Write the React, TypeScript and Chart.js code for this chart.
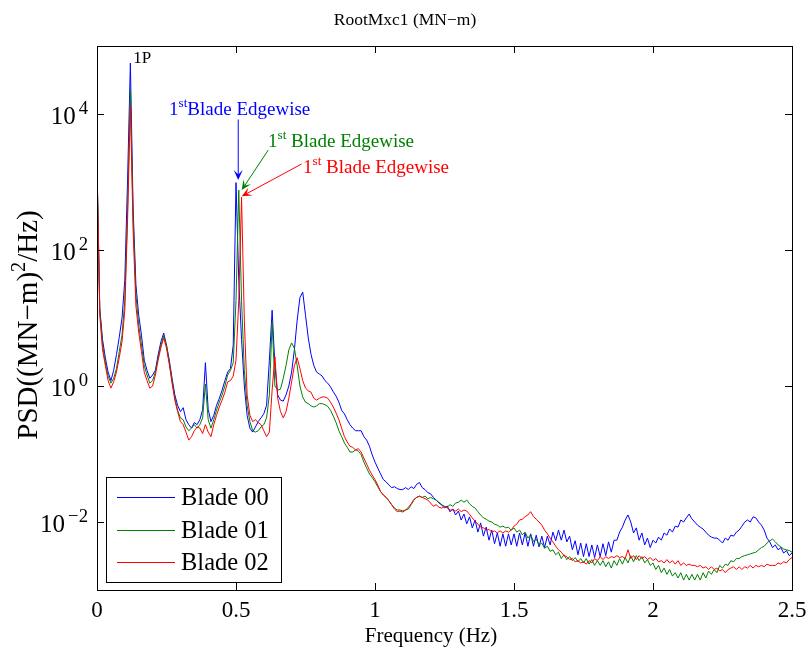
import React, { useEffect, useRef } from 'react';
import { Chart, registerables } from 'chart.js';

Chart.register(...registerables);

// ---------------- data ----------------
const FREQ = [
  0, 0.01, 0.02, 0.03, 0.04, 0.05, 0.06, 0.07, 0.08, 0.09,
  0.1, 0.11, 0.12, 0.13, 0.14, 0.15, 0.16, 0.17, 0.18, 0.19,
  0.2, 0.21, 0.22, 0.23, 0.24, 0.25, 0.26, 0.27, 0.28, 0.29,
  0.3, 0.31, 0.32, 0.33, 0.34, 0.35, 0.36, 0.37, 0.38, 0.39,
  0.4, 0.41, 0.42, 0.43, 0.44, 0.45, 0.46, 0.47, 0.48, 0.49,
  0.5, 0.51, 0.52, 0.53, 0.54, 0.55, 0.56, 0.57, 0.58, 0.59,
  0.6, 0.61, 0.62, 0.63, 0.64, 0.65, 0.66, 0.67, 0.68, 0.69,
  0.7, 0.71, 0.72, 0.73, 0.74, 0.75, 0.76, 0.77, 0.78, 0.79,
  0.8, 0.81, 0.82, 0.83, 0.84, 0.85, 0.86, 0.87, 0.88, 0.89,
  0.9, 0.91, 0.92, 0.93, 0.94, 0.95, 0.96, 0.97, 0.98, 0.99,
  1.0, 1.01, 1.02, 1.03, 1.04, 1.05, 1.06, 1.07, 1.08, 1.09,
  1.1, 1.11, 1.12, 1.13, 1.14, 1.15, 1.16, 1.17, 1.18, 1.19,
  1.2, 1.21, 1.22, 1.23, 1.24, 1.25, 1.26, 1.27, 1.28, 1.29,
  1.3, 1.31, 1.32, 1.33, 1.34, 1.35, 1.36, 1.37, 1.38, 1.39,
  1.4, 1.41, 1.42, 1.43, 1.44, 1.45, 1.46, 1.47, 1.48, 1.49,
  1.5, 1.51, 1.52, 1.53, 1.54, 1.55, 1.56, 1.57, 1.58, 1.59,
  1.6, 1.61, 1.62, 1.63, 1.64, 1.65, 1.66, 1.67, 1.68, 1.69,
  1.7, 1.71, 1.72, 1.73, 1.74, 1.75, 1.76, 1.77, 1.78, 1.79,
  1.8, 1.81, 1.82, 1.83, 1.84, 1.85, 1.86, 1.87, 1.88, 1.89,
  1.9, 1.91, 1.92, 1.93, 1.94, 1.95, 1.96, 1.97, 1.98, 1.99,
  2.0, 2.01, 2.02, 2.03, 2.04, 2.05, 2.06, 2.07, 2.08, 2.09,
  2.1, 2.11, 2.12, 2.13, 2.14, 2.15, 2.16, 2.17, 2.18, 2.19,
  2.2, 2.21, 2.22, 2.23, 2.24, 2.25, 2.26, 2.27, 2.28, 2.29,
  2.3, 2.31, 2.32, 2.33, 2.34, 2.35, 2.36, 2.37, 2.38, 2.39,
  2.4, 2.41, 2.42, 2.43, 2.44, 2.45, 2.46, 2.47, 2.48, 2.49, 2.5,
];

const BLADE_00 = [
  1800, 14, 4.8, 2.6, 1.6, 1.2, 1.7, 2.9, 5.2, 10,
  36, 1100, 56000, 400, 31, 11, 5.6, 2.4, 1.7, 1.3,
  1.45, 1.7, 2.9, 4.5, 6.0, 4.0, 2.4, 1.3, 0.74, 0.52,
  0.42, 0.48, 0.32, 0.27, 0.24, 0.29, 0.27, 0.32, 0.45, 2.2,
  0.45, 0.3, 0.37, 0.52, 0.66, 0.87, 1.2, 1.6, 1.8, 4.0,
  980, 36, 4.8, 1.0, 0.37, 0.24, 0.21, 0.25, 0.3, 0.34,
  0.39, 0.52, 2.4, 13, 2.0, 0.74, 0.62, 0.6, 0.74, 1.0,
  1.6, 3.4, 9.3, 20, 24, 11, 5.1, 2.9, 2.0, 1.6,
  1.5, 1.4, 1.2, 1.1, 0.97, 0.82, 0.71, 0.58, 0.44, 0.39,
  0.32, 0.27, 0.24, 0.22, 0.22, 0.22, 0.18, 0.16, 0.13, 0.097,
  0.076, 0.062, 0.051, 0.042, 0.039, 0.035, 0.032, 0.033, 0.031, 0.030,
  0.030, 0.032, 0.030, 0.033, 0.031, 0.036, 0.038, 0.032, 0.030, 0.027,
  0.026, 0.023, 0.021, 0.019, 0.0178, 0.0161, 0.0172, 0.0141, 0.0156, 0.0127,
  0.0145, 0.0107, 0.0131, 0.0094, 0.0119, 0.0082, 0.0107, 0.0071, 0.0097, 0.0062,
  0.0084, 0.0054, 0.0076, 0.0048, 0.0069, 0.0044, 0.0067, 0.0044, 0.0067, 0.0046,
  0.0067, 0.0044, 0.0069, 0.0046, 0.0069, 0.0044, 0.0067, 0.0044, 0.0064, 0.0043,
  0.0062, 0.0042, 0.0062, 0.0046, 0.0071, 0.0053, 0.0076, 0.0054, 0.0076, 0.0051,
  0.0062, 0.0039, 0.0053, 0.0033, 0.0049, 0.0031, 0.0048, 0.0031, 0.0046, 0.0030,
  0.0046, 0.0031, 0.0048, 0.0032, 0.0051, 0.0036, 0.0054, 0.0054, 0.0071, 0.0084,
  0.0107, 0.0127, 0.0100, 0.0069, 0.0082, 0.0054, 0.0069, 0.0046, 0.0058, 0.0042,
  0.0054, 0.0049, 0.0060, 0.0054, 0.0069, 0.0064, 0.0079, 0.0071, 0.0087, 0.0084,
  0.0107, 0.0100, 0.0115, 0.0131, 0.0111, 0.0100, 0.0090, 0.0084, 0.0079, 0.0071,
  0.0064, 0.0060, 0.0058, 0.0058, 0.0054, 0.0049, 0.0058, 0.0054, 0.0064, 0.0062,
  0.0071, 0.0076, 0.0087, 0.0100, 0.0107, 0.0100, 0.0119, 0.0115, 0.0100, 0.0090,
  0.0076, 0.0058, 0.0051, 0.0042, 0.0046, 0.0039, 0.0042, 0.0035, 0.0038, 0.0032, 0.0035,
];

const BLADE_01 = [
  1600, 13, 4.0, 2.2, 1.4, 1.1, 1.3, 1.8, 3.2, 5.6,
  18, 390, 23000, 280, 22, 7.9, 4.0, 2.0, 1.45, 1.1,
  1.2, 1.6, 2.6, 4.0, 5.5, 3.9, 2.2, 1.2, 0.66, 0.44,
  0.34, 0.32, 0.25, 0.22, 0.24, 0.27, 0.24, 0.27, 0.34, 1.07,
  0.32, 0.24, 0.32, 0.44, 0.58, 0.74, 1.0, 1.45, 1.7, 2.2,
  18, 760, 18, 1.7, 0.52, 0.3, 0.22, 0.21, 0.22, 0.25,
  0.27, 0.34, 0.74, 8.7, 1.0, 0.87, 0.9, 1.3, 2.0, 3.4,
  4.3, 3.6, 2.0, 1.0, 0.69, 0.58, 0.55, 0.51, 0.49, 0.51,
  0.55, 0.55, 0.53, 0.5, 0.44, 0.36, 0.29, 0.22, 0.18, 0.145,
  0.126, 0.107, 0.107, 0.115, 0.11, 0.098, 0.076, 0.062, 0.051, 0.045,
  0.039, 0.033, 0.028, 0.025, 0.023, 0.0205, 0.018, 0.016, 0.015, 0.015,
  0.0145, 0.015, 0.0155, 0.018, 0.021, 0.023, 0.024, 0.023, 0.024, 0.022,
  0.023, 0.022, 0.021, 0.0195, 0.018, 0.017, 0.0165, 0.018, 0.017, 0.019,
  0.0195, 0.021, 0.0195, 0.021, 0.0185, 0.017, 0.016, 0.0142, 0.0127, 0.0115,
  0.011, 0.0103, 0.010, 0.0093, 0.009, 0.0084, 0.0087, 0.0082, 0.0084, 0.0076,
  0.0082, 0.0071, 0.0076, 0.0065, 0.0071, 0.0058, 0.0065, 0.0052, 0.0056, 0.0046,
  0.0049, 0.0041, 0.0044, 0.0037, 0.0039, 0.0033, 0.0036, 0.0029, 0.0033, 0.0028,
  0.0031, 0.0027, 0.0030, 0.0026, 0.0029, 0.0025, 0.0029, 0.0024, 0.0028, 0.0023,
  0.0027, 0.0023, 0.0027, 0.0022, 0.0026, 0.0021, 0.0027, 0.0023, 0.0029, 0.0024,
  0.0030, 0.0025, 0.0032, 0.0026, 0.0032, 0.0027, 0.0031, 0.0025, 0.0028, 0.0023,
  0.0025, 0.0020, 0.0023, 0.0018, 0.0021, 0.0017, 0.0020, 0.0016, 0.0018, 0.0015,
  0.0018, 0.0014, 0.0017, 0.0014, 0.0017, 0.0014, 0.0017, 0.0014, 0.0018, 0.0015,
  0.0019, 0.0017, 0.0020, 0.0018, 0.0023, 0.0021, 0.0024, 0.0023, 0.0027, 0.0026,
  0.0029, 0.0029, 0.0031, 0.0032, 0.0033, 0.0034, 0.0035, 0.0036, 0.0039, 0.0042,
  0.0044, 0.0049, 0.0053, 0.0056, 0.0051, 0.0046, 0.0043, 0.0040, 0.0039, 0.0038, 0.0036,
];

const BLADE_02 = [
  1800, 11, 3.4, 2.0, 1.2, 0.93, 1.15, 1.6, 2.6, 4.5,
  13, 280, 13500, 190, 15, 6.2, 3.2, 1.6, 1.2, 0.93,
  1.0, 1.45, 2.4, 3.7, 5.1, 3.6, 2.1, 1.1, 0.62, 0.42,
  0.3, 0.27, 0.21, 0.16, 0.18, 0.22, 0.25, 0.24, 0.2, 0.27,
  0.21, 0.18, 0.27, 0.37, 0.49, 0.62, 0.81, 1.15, 1.2, 1.4,
  2.4, 18, 600, 9.3, 0.74, 0.37, 0.3, 0.32, 0.29, 0.27,
  0.22, 0.18, 0.21, 0.87, 2.7, 0.66, 0.42, 0.34, 0.42, 0.66,
  1.15, 2.0, 2.6, 1.8, 1.2, 0.93, 0.85, 0.81, 0.66, 0.62,
  0.66, 0.69, 0.69, 0.66, 0.58, 0.49, 0.4, 0.32, 0.24, 0.18,
  0.15, 0.13, 0.125, 0.115, 0.12, 0.107, 0.087, 0.071, 0.058, 0.049,
  0.042, 0.035, 0.028, 0.025, 0.023, 0.0205, 0.018, 0.0155, 0.0142, 0.0145,
  0.014, 0.015, 0.0165, 0.0185, 0.0215, 0.023, 0.024, 0.023, 0.022, 0.021,
  0.019, 0.017, 0.018, 0.0165, 0.016, 0.017, 0.016, 0.015, 0.015, 0.0145,
  0.0155, 0.0142, 0.015, 0.0145, 0.013, 0.0115, 0.0103, 0.0093, 0.0084, 0.0082,
  0.0076, 0.0078, 0.0071, 0.0074, 0.0069, 0.0074, 0.0069, 0.0074, 0.0071, 0.0076,
  0.0087, 0.0093, 0.0107, 0.011, 0.012, 0.0127, 0.0142, 0.012, 0.011, 0.010,
  0.009, 0.0076, 0.0067, 0.0058, 0.0051, 0.0044, 0.0039, 0.0036, 0.0032, 0.0031,
  0.0028, 0.0029, 0.0026, 0.0027, 0.0025, 0.0026, 0.0024, 0.0027, 0.0025, 0.0029,
  0.0027, 0.0031, 0.0028, 0.0031, 0.0029, 0.0031, 0.0030, 0.0032, 0.0030, 0.0031,
  0.0029, 0.0039, 0.0029, 0.0032, 0.0028, 0.0032, 0.0029, 0.0031, 0.0028, 0.0030,
  0.0027, 0.0029, 0.0026, 0.0027, 0.0025, 0.0028, 0.0025, 0.0027, 0.0024, 0.0027,
  0.0023, 0.0025, 0.0023, 0.0024, 0.0023, 0.0023, 0.0022, 0.0023, 0.0021, 0.0022,
  0.0020, 0.0022, 0.0020, 0.0021, 0.0019, 0.0020, 0.0018, 0.0020, 0.0021, 0.0022,
  0.0020, 0.0022, 0.0020, 0.0022, 0.0021, 0.0023, 0.0021, 0.0023, 0.0022, 0.0023,
  0.0022, 0.0024, 0.0023, 0.0023, 0.0023, 0.0025, 0.0024, 0.0026, 0.0025, 0.0028, 0.0030,
];

const SERIES_NAMES = ['Blade 00', 'Blade 01', 'Blade 02'];
const SERIES_VALUES = [BLADE_00, BLADE_01, BLADE_02];
const SERIES_COLORS = ['#0000ff', '#008000', '#ff0000'];

const X_TICKS = [0, 0.5, 1, 1.5, 2, 2.5];
const X_TICK_LABELS = ['0', '0.5', '1', '1.5', '2', '2.5'];
const Y_TICKS = [1e-2, 1, 1e2, 1e4];
const Y_TICK_EXPONENTS = ['\u22122', '0', '2', '4'];

const TITLE = 'RootMxc1 (MN\u2212m)';
const X_LABEL = 'Frequency (Hz)';
const Y_LABEL_PARTS = [
  { t: 'PSD((MN\u2212m)' },
  { t: '2', sup: true },
  { t: '/Hz)' },
];

// annotation anchors in data coordinates (frequency, PSD)
const PEAK_LABEL = { text: '1P', f: 0.13, v: 56000 };
const MODE_LABELS = [
  { sup: 'st', rest: 'Blade Edgewise', gap: '', f: 0.259, v: 9700, tail: [0.508, 8300], tip: [0.508, 1070] },
  { sup: 'st', rest: 'Blade Edgewise', gap: ' ', f: 0.615, v: 3270, tail: [0.616, 2950], tip: [0.5205, 760] },
  { sup: 'st', rest: 'Blade Edgewise', gap: ' ', f: 0.741, v: 1350, tail: [0.736, 1840], tip: [0.5205, 615] },
];

// ---------------- drawing helpers ----------------
const SERIF = '"Liberation Serif", "Times New Roman", Times, serif';

type Run = { t: string; sup?: boolean; gapBefore?: number };

function runsWidth(ctx: CanvasRenderingContext2D, runs: Run[], size: number, supScale = 0.7) {
  let w = 0;
  for (const r of runs) {
    ctx.font = `${r.sup ? size * supScale : size}px ${SERIF}`;
    w += (r.gapBefore || 0) + ctx.measureText(r.t).width;
  }
  return w;
}

function drawRuns(ctx: CanvasRenderingContext2D, runs: Run[], x: number, baseline: number, size: number, supScale = 0.7) {
  let cx = x;
  ctx.textAlign = 'left';
  ctx.textBaseline = 'alphabetic';
  for (const r of runs) {
    cx += r.gapBefore || 0;
    ctx.font = `${r.sup ? size * supScale : size}px ${SERIF}`;
    ctx.fillText(r.t, cx, r.sup ? baseline - size * 0.42 : baseline);
    cx += ctx.measureText(r.t).width;
  }
}

function drawArrow(ctx: CanvasRenderingContext2D, x1: number, y1: number, x2: number, y2: number, color: string) {
  const dx = x2 - x1;
  const dy = y2 - y1;
  const len = Math.hypot(dx, dy);
  const ux = dx / len;
  const uy = dy / len;
  const nx = -uy;
  const ny = ux;
  const L = 10;
  const W = 4.5;
  ctx.save();
  ctx.strokeStyle = color;
  ctx.fillStyle = color;
  ctx.lineWidth = 1;
  ctx.beginPath();
  ctx.moveTo(x1, y1);
  ctx.lineTo(x2 - ux * L * 0.5, y2 - uy * L * 0.5);
  ctx.stroke();
  ctx.beginPath();
  ctx.moveTo(x2, y2);
  ctx.lineTo(x2 - ux * L + nx * W, y2 - uy * L + ny * W);
  ctx.lineTo(x2 - ux * L * 0.55, y2 - uy * L * 0.55);
  ctx.lineTo(x2 - ux * L - nx * W, y2 - uy * L - ny * W);
  ctx.closePath();
  ctx.fill();
  ctx.restore();
}

const overlayPlugin = {
  id: 'matlabOverlay',
  afterDraw(chart: any) {
    const ctx: CanvasRenderingContext2D = chart.ctx;
    const ca = chart.chartArea;
    const xs = chart.scales.x;
    const ys = chart.scales.y;
    ctx.save();

    // axes box and inward ticks
    ctx.strokeStyle = '#000';
    ctx.lineWidth = 1;
    ctx.strokeRect(Math.round(ca.left) + 0.5, Math.round(ca.top) + 0.5, Math.round(ca.right - ca.left), Math.round(ca.bottom - ca.top));
    const tl = 7;
    ctx.beginPath();
    for (const t of X_TICKS) {
      const px = Math.round(xs.getPixelForValue(t)) + 0.5;
      ctx.moveTo(px, ca.bottom);
      ctx.lineTo(px, ca.bottom - tl);
      ctx.moveTo(px, ca.top);
      ctx.lineTo(px, ca.top + tl);
    }
    for (const t of Y_TICKS) {
      const py = Math.round(ys.getPixelForValue(t)) + 0.5;
      ctx.moveTo(ca.left, py);
      ctx.lineTo(ca.left + tl, py);
      ctx.moveTo(ca.right, py);
      ctx.lineTo(ca.right - tl, py);
    }
    ctx.stroke();

    ctx.fillStyle = '#000';
    // x tick labels
    ctx.font = `23px ${SERIF}`;
    ctx.textAlign = 'center';
    ctx.textBaseline = 'alphabetic';
    X_TICKS.forEach((t, i) => {
      ctx.fillText(X_TICK_LABELS[i], xs.getPixelForValue(t), ca.bottom + 27);
    });

    // y tick labels (10 with superscript exponent)
    Y_TICKS.forEach((t, i) => {
      const py = ys.getPixelForValue(t);
      const runs: Run[] = [{ t: '10' }, { t: Y_TICK_EXPONENTS[i], sup: true, gapBefore: 3 }];
      const w = runsWidth(ctx, runs, 25, 0.75);
      drawRuns(ctx, runs, ca.left - 9 - w, py + 10, 25, 0.75);
    });

    // title
    ctx.font = `17.5px ${SERIF}`;
    ctx.textAlign = 'center';
    ctx.fillText(TITLE, 405, 25);

    // x label
    ctx.font = `21px ${SERIF}`;
    ctx.fillText(X_LABEL, 431, ca.bottom + 52);

    // y label
    ctx.save();
    ctx.translate(37, 325);
    ctx.rotate(-Math.PI / 2);
    const yw = runsWidth(ctx, Y_LABEL_PARTS, 29);
    drawRuns(ctx, Y_LABEL_PARTS, -yw / 2, 0, 29);
    ctx.restore();

    // 1P label
    ctx.fillStyle = '#000';
    ctx.font = `17px ${SERIF}`;
    ctx.textAlign = 'left';
    ctx.fillText(PEAK_LABEL.text, xs.getPixelForValue(PEAK_LABEL.f), ys.getPixelForValue(PEAK_LABEL.v));

    // mode annotations
    MODE_LABELS.forEach((m, i) => {
      const color = SERIES_COLORS[i];
      ctx.fillStyle = color;
      const x0 = xs.getPixelForValue(m.f);
      const y0 = ys.getPixelForValue(m.v);
      drawRuns(ctx, [{ t: '1' }, { t: m.sup, sup: true }, { t: m.gap + m.rest }], x0, y0, 19);
      drawArrow(
        ctx,
        xs.getPixelForValue(m.tail[0]), ys.getPixelForValue(m.tail[1]),
        xs.getPixelForValue(m.tip[0]), ys.getPixelForValue(m.tip[1]),
        color,
      );
    });

    // legend box
    const lx = ca.left + 9;
    const ly = ca.bottom - 113;
    const lw = 175;
    const lh = 105;
    ctx.fillStyle = '#fff';
    ctx.fillRect(lx, ly, lw, lh);
    ctx.strokeStyle = '#000';
    ctx.lineWidth = 1;
    ctx.strokeRect(Math.round(lx) + 0.5, Math.round(ly) + 0.5, lw, lh);
    SERIES_NAMES.forEach((name, i) => {
      const ry = Math.round(ly + 20 + i * 32.5) + 0.5;
      ctx.strokeStyle = SERIES_COLORS[i];
      ctx.beginPath();
      ctx.moveTo(lx + 11, ry);
      ctx.lineTo(lx + 69, ry);
      ctx.stroke();
      ctx.fillStyle = '#000';
      ctx.font = `24.5px ${SERIF}`;
      ctx.textAlign = 'left';
      ctx.textBaseline = 'middle';
      ctx.fillText(name, lx + 75, ry + 1);
    });

    ctx.restore();
  },
};

export default function App() {
  const canvasRef = useRef<HTMLCanvasElement>(null);

  useEffect(() => {
    if (!canvasRef.current) return;
    const datasets = SERIES_VALUES.map((vals, i) => ({
      label: SERIES_NAMES[i],
      data: FREQ.map((f, j) => ({ x: f, y: vals[j] })),
      borderColor: SERIES_COLORS[i],
      backgroundColor: SERIES_COLORS[i],
      borderWidth: 1,
      pointRadius: 0,
      tension: 0,
      fill: false,
      order: SERIES_NAMES.length - i,
    }));
    const chart = new Chart(canvasRef.current, {
      type: 'line',
      data: { datasets },
      options: {
        animation: false,
        responsive: true,
        maintainAspectRatio: false,
        devicePixelRatio: 1,
        layout: { padding: { left: 97, top: 46, right: 17, bottom: 64 } },
        plugins: {
          legend: { display: false },
          tooltip: { enabled: false },
          title: { display: false },
        },
        scales: {
          x: { type: 'linear', min: 0, max: 2.5, display: false },
          y: { type: 'logarithmic', min: 1e-3, max: 1e5, display: false },
        },
      },
      plugins: [overlayPlugin],
    } as any);
    return () => chart.destroy();
  }, []);

  return (
    <div style={{ position: 'fixed', left: 0, top: 0, width: 809, height: 654, background: '#ffffff' }}>
      <canvas ref={canvasRef} />
    </div>
  );
}
